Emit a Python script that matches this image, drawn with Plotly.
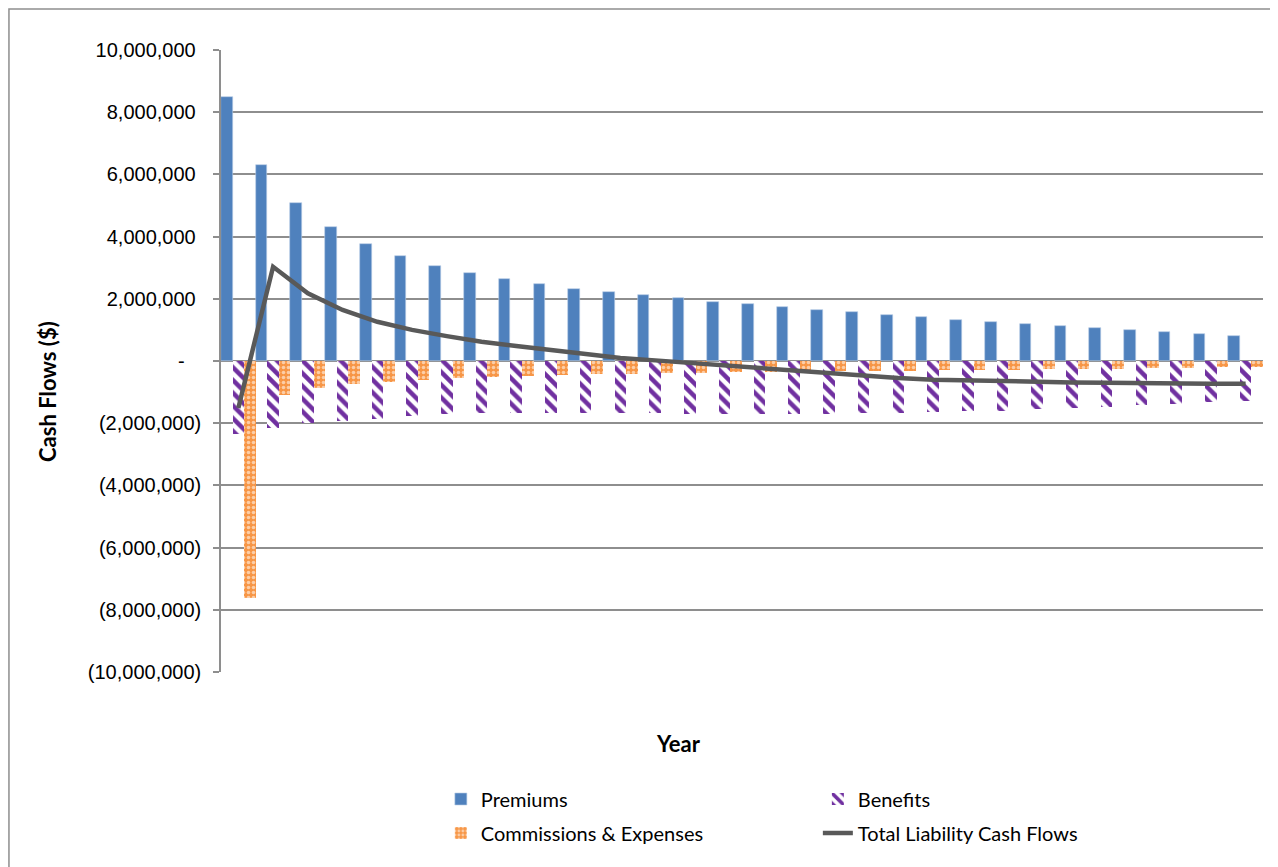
import plotly.graph_objects as go

years = list(range(1, 31))

premiums = [8480000, 6290000, 5070000, 4310000, 3760000, 3370000, 3070000, 2830000, 2630000, 2470000,
            2330000, 2210000, 2110000, 2020000, 1910000, 1820000, 1730000, 1640000, 1570000, 1480000,
            1400000, 1320000, 1240000, 1190000, 1125000, 1050000, 1000000, 930000, 870000, 810000]

benefits = [-2340000, -2140000, -1990000, -1920000, -1850000, -1780000, -1720000, -1680000, -1680000, -1660000,
            -1660000, -1680000, -1680000, -1690000, -1700000, -1700000, -1690000, -1690000, -1680000, -1660000,
            -1650000, -1610000, -1600000, -1550000, -1520000, -1470000, -1420000, -1380000, -1330000, -1280000]

commissions = [-7630000, -1090000, -880000, -750000, -660000, -600000, -550000, -500000, -470000, -440000,
               -430000, -420000, -400000, -380000, -360000, -340000, -330000, -320000, -320000, -310000,
               -290000, -290000, -280000, -270000, -260000, -250000, -230000, -230000, -200000, -180000]

total = [-1510000, 3030000, 2180000, 1640000, 1260000, 1000000, 800000, 620000, 480000, 350000,
         220000, 100000, 20000, -60000, -160000, -240000, -330000, -410000, -470000, -550000,
         -600000, -630000, -650000, -670000, -690000, -700000, -720000, -720000, -730000, -730000]

y_tickvals = [-10000000, -8000000, -6000000, -4000000, -2000000, 0,
              2000000, 4000000, 6000000, 8000000, 10000000]
y_ticktext = ["(10,000,000)", "(8,000,000)", "(6,000,000)", "(4,000,000)", "(2,000,000)",
              "-\u00a0\u00a0\u00a0",
              "2,000,000\u00a0", "4,000,000\u00a0", "6,000,000\u00a0", "8,000,000\u00a0", "10,000,000\u00a0"]

GRID = "#8E8E8E"

fig = go.Figure()
fig.add_bar(x=years, y=premiums, name="Premiums", legend="legend",
            marker=dict(color="#4F81BD", line=dict(color="#B9CDE5", width=0.6)))
fig.add_bar(x=years, y=benefits, name="Benefits", legend="legend",
            marker=dict(color="#7030A0",
                        pattern=dict(shape="\\", fgcolor="#7030A0", bgcolor="white", fgopacity=1,
                                     size=9, solidity=0.5),
                        line=dict(width=0)))
fig.add_bar(x=years, y=commissions, name="Commissions & Expenses", legend="legend2",
            marker=dict(color="#F79646",
                        pattern=dict(shape=".", fgcolor="#FFF3EA", bgcolor="#F79646", fgopacity=0.6,
                                     size=5, solidity=0.4),
                        line=dict(width=0)))
fig.add_scatter(x=years, y=total, mode="lines", name="Total Liability Cash Flows", legend="legend2",
                line=dict(color="#595959", width=4.5))

legend_common = dict(orientation="h", xanchor="left", yanchor="middle", entrywidth=332,
                     font=dict(family="Lato", size=20, color="black"),
                     bgcolor="rgba(0,0,0,0)", traceorder="normal")

fig.update_layout(
    width=1270, height=859,
    margin=dict(l=213, r=15, t=42, b=195),
    paper_bgcolor="white", plot_bgcolor="white",
    barmode="group", bargap=0, bargroupgap=0,
    showlegend=True,
    legend=dict(x=0.211, y=(672 - 799) / 622, **legend_common),
    legend2=dict(x=0.211, y=(672 - 833) / 622, **legend_common),
    xaxis=dict(range=[0.5, 30.5], showticklabels=False, showgrid=False, zeroline=False,
               showline=False, ticks=""),
    yaxis=dict(range=[-10000000, 10000000], tickvals=y_tickvals, ticktext=y_ticktext,
               showgrid=True, gridcolor=GRID, gridwidth=1.5,
               zeroline=True, zerolinecolor=GRID, zerolinewidth=2,
               showline=True, linecolor=GRID, linewidth=1.5,
               ticks="outside", ticklen=6, tickcolor=GRID, tickwidth=1.5,
               tickfont=dict(family="Liberation Sans", size=20, color="black"),
               ticklabelstandoff=8),
    annotations=[
        dict(text="<b>Year</b>", x=(678 - 221) / 1042, y=(672 - 743) / 622, xref="paper", yref="paper",
             showarrow=False, font=dict(family="Lato", size=22, color="black"),
             xanchor="center", yanchor="middle"),
        dict(text="<b>Cash Flows ($)</b>", x=(47 - 221) / 1042, y=(672 - 392) / 622, xref="paper", yref="paper",
             showarrow=False, textangle=-90, font=dict(family="Lato", size=22, color="black"),
             xanchor="center", yanchor="middle"),
    ],
    shapes=[
        dict(type="rect", xref="paper", yref="paper", x0=-0.2035, x1=1.2, y0=-0.6, y1=1.066,
             line=dict(color=GRID, width=1.5), fillcolor="rgba(0,0,0,0)", layer="below"),
    ],
)

fig.write_html("out.html")
